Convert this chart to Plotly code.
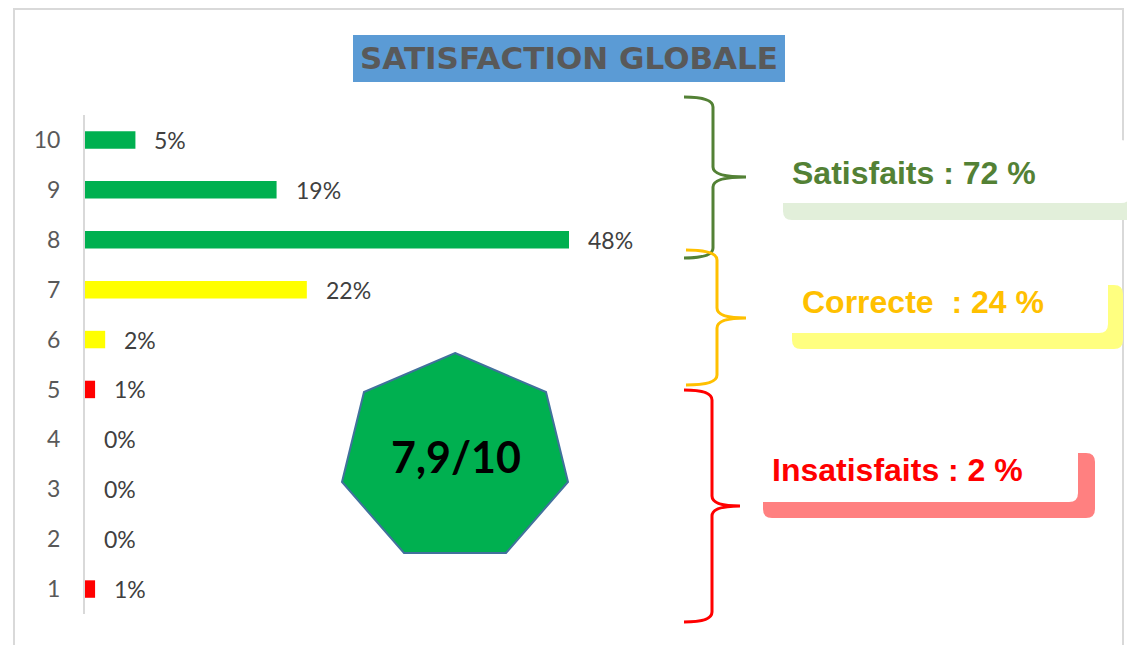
import plotly.graph_objects as go

# page has an 8px body margin: the figure is placed at (8, 8) in the window
OFF = 8
W, H = 1135 - OFF, 645 - OFF

# ---- data ----
notes = [1, 2, 3, 4, 5, 6, 7, 8, 9, 10]
pourcentages = [1, 0, 0, 0, 1, 2, 22, 48, 19, 5]
couleurs = ["#FF0000", "#FF0000", "#FF0000", "#FF0000", "#FF0000",
            "#FFFF00", "#FFFF00", "#00B050", "#00B050", "#00B050"]
etiquettes = ["1%", "0%", "0%", "0%", "1%", "2%", "22%", "48%", "19%", "5%"]
titre = "SATISFACTION GLOBALE"
note_globale = "7,9/10"
groupes = ["Satisfaits : 72 %", "Correcte\u00a0 : 24 %", "Insatisfaits : 2 %"]
couleurs_groupes = ["#538135", "#FFC000", "#FF0000"]
ombres_groupes = ["#E2EFDA", "#FFFF80", "#FF8080"]


def px(x):
    return (x - OFF) / W


def py(y):
    return 1 - (y - OFF) / H


def P(x, y):
    return f"{px(x):.5f},{py(y):.5f}"


# plot area in window pixels
X0, X1 = 85, 690   # 0..60 %
Y0, Y1 = 115, 614

fig = go.Figure()
fig.add_trace(go.Bar(
    x=pourcentages, y=notes, orientation="h",
    marker=dict(color=couleurs, line=dict(width=0)),
    width=0.35, hoverinfo="skip", showlegend=False,
))

annotations = []
for v, n, t in zip(pourcentages, notes, etiquettes):
    annotations.append(dict(
        x=v, y=n, xref="x", yref="y", text=t, showarrow=False,
        xanchor="left", yanchor="middle", xshift=17, yshift=0,
        font=dict(family="Lato", size=23, color="#404040"),
    ))

shapes = []
# outer frame (left, top, right edges)
frame = f"M {P(14, 700)} L {P(14, 9)} L {P(1123, 9)} L {P(1123, 700)}"
shapes.append(dict(type="path", xref="paper", yref="paper", path=frame,
                   line=dict(color="#D9D9D9", width=2), fillcolor="rgba(0,0,0,0)",
                   layer="below"))
# title box
shapes.append(dict(type="rect", xref="paper", yref="paper",
                   x0=px(353), x1=px(785), y0=py(82), y1=py(35),
                   line=dict(width=0), fillcolor="#5B9BD5"))
annotations.append(dict(x=px(569), y=py(58), xref="paper", yref="paper",
                        text=f"<b>{titre}</b>", showarrow=False,
                        xanchor="center", yanchor="middle",
                        font=dict(family="DejaVu Sans", size=31, color="#595959")))


def brace(xe, xv, xt, ytop, ymid, ybot, color):
    r = 10
    path = (f"M {P(xe, ytop)} Q {P(xv, ytop)} {P(xv, ytop + r)} "
            f"L {P(xv, ymid - r)} Q {P(xv, ymid)} {P(xt, ymid)} "
            f"Q {P(xv, ymid)} {P(xv, ymid + r)} "
            f"L {P(xv, ybot - r)} Q {P(xv, ybot)} {P(xe, ybot)}")
    return dict(type="path", xref="paper", yref="paper", path=path,
                line=dict(color=color, width=3), fillcolor="rgba(0,0,0,0)")


def rrect(x0, y0, x1, y1, r, color):
    path = (f"M {P(x0 + r, y0)} L {P(x1 - r, y0)} Q {P(x1, y0)} {P(x1, y0 + r)} "
            f"L {P(x1, y1 - r)} Q {P(x1, y1)} {P(x1 - r, y1)} "
            f"L {P(x0 + r, y1)} Q {P(x0, y1)} {P(x0, y1 - r)} "
            f"L {P(x0, y0 + r)} Q {P(x0, y0)} {P(x0 + r, y0)} Z")
    return dict(type="path", xref="paper", yref="paper", path=path,
                line=dict(width=0), fillcolor=color)


# label boxes (shadow + white box)
boxes = [
    ((783, 155, 1150, 220), (768, 140, 1130, 203), 173, 790),
    ((792, 285, 1123, 349), (777, 270, 1108, 333), 302, 800),
    ((763, 453, 1095, 518), (750, 437, 1078, 502), 470, 770),
]
for (s, w, ty, tx), lab, col, sh in zip(boxes, groupes, couleurs_groupes, ombres_groupes):
    shapes.append(rrect(*s, 9, sh))
    shapes.append(rrect(*w, 9, "#FFFFFF"))
    annotations.append(dict(x=px(tx), y=py(ty), xref="paper", yref="paper",
                            text=f"<b>{lab}</b>", showarrow=False,
                            xanchor="left", yanchor="middle",
                            font=dict(family="Liberation Sans", size=32, color=col)))

# braces
shapes.append(brace(684, 713, 746, 97, 177, 258, "#538135"))
shapes.append(brace(686, 717, 746, 250, 318, 385, "#FFC000"))
shapes.append(brace(684, 712, 740, 390, 506, 622, "#FF0000"))

# heptagon
hept = [(455, 353), (546, 392), (568, 482), (506, 553), (404, 553), (342, 482), (364, 392)]
path = "M " + " L ".join(P(x, y) for x, y in hept) + " Z"
shapes.append(dict(type="path", xref="paper", yref="paper", path=path,
                   line=dict(color="#41719C", width=2), fillcolor="#00B050"))
annotations.append(dict(x=px(456), y=py(456), xref="paper", yref="paper",
                        text=f"<b>{note_globale}</b>", showarrow=False,
                        xanchor="center", yanchor="middle",
                        font=dict(family="Lato", size=43, color="#000000")))

fig.update_layout(
    width=W, height=H,
    margin=dict(l=0, r=0, t=0, b=0),
    paper_bgcolor="#FFFFFF", plot_bgcolor="rgba(0,0,0,0)",
    xaxis=dict(domain=[px(X0), px(X1)], range=[0, 60], visible=False, fixedrange=True),
    yaxis=dict(domain=[py(Y1), py(Y0)], range=[0.5, 10.5],
               tickvals=notes, ticktext=[str(n) for n in notes],
               showgrid=False, zeroline=False, showline=True,
               linecolor="#D9D9D9", linewidth=2, ticks="",
               ticklabelstandoff=18,
               tickfont=dict(family="Lato", size=23, color="#595959"),
               fixedrange=True),
    shapes=shapes, annotations=annotations,
    bargap=0.5,
)

fig.write_html("out.html")
